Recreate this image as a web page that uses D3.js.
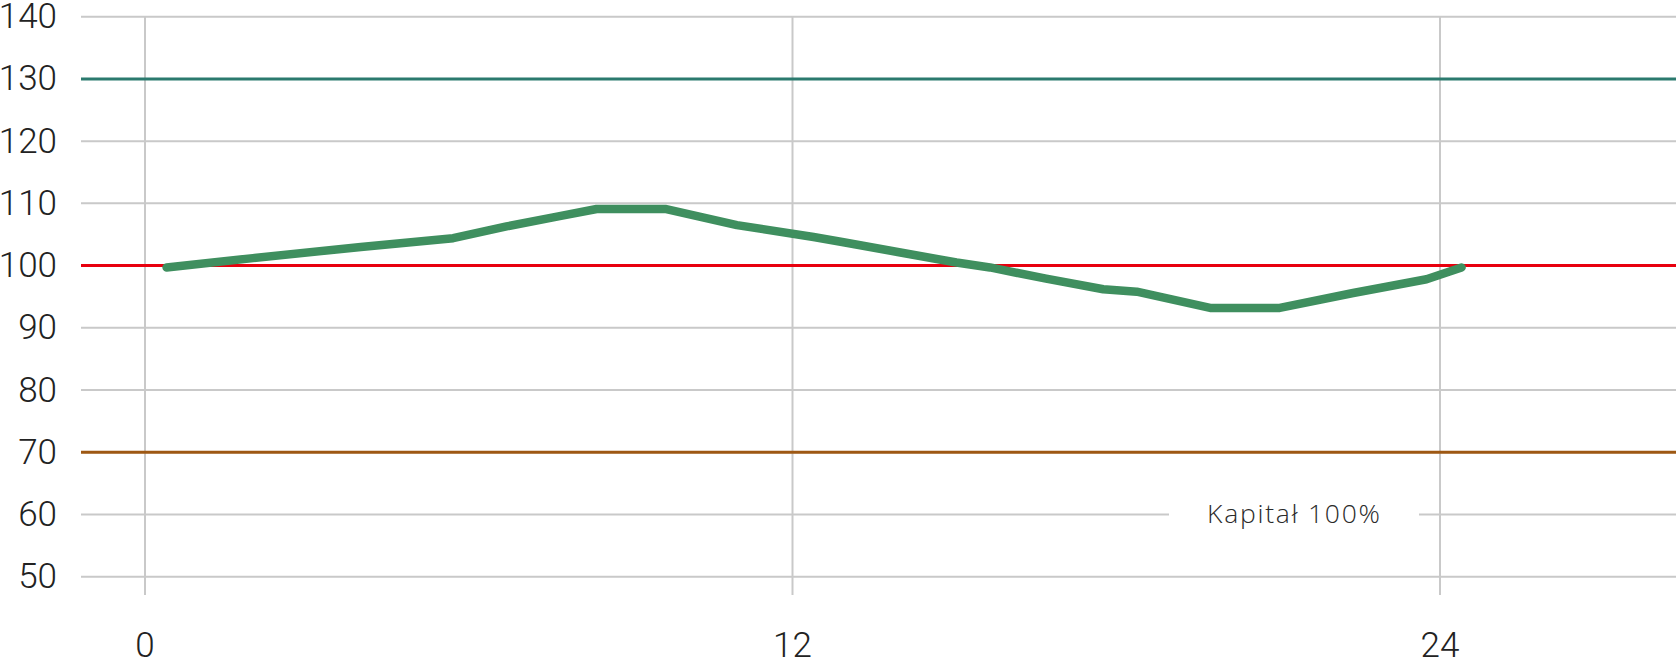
<!DOCTYPE html>
<html>
<head>
<meta charset="utf-8">
<script src="https://cdn.jsdelivr.net/npm/d3@7"></script>
<style>
  html, body { margin: 0; padding: 0; background: #ffffff; }
  svg { display: block; }
</style>
</head>
<body>
<svg id="chart" width="1676" height="659"></svg>
<script>
// ---- data ----
const xTicks = [0, 12, 24];
const yTicks = [50, 60, 70, 80, 90, 100, 110, 120, 130, 140];
const seriesX = [0.40, 2.0, 4.0, 5.71, 6.7, 7.66, 8.37, 9.64, 10.97, 12.39, 12.92, 14.0, 15.04, 15.66, 16.7, 17.76, 18.38, 19.74, 21.03, 22.39, 23.01, 23.75, 24.40];
const seriesY = [99.7, 101.2, 103.0, 104.4, 106.3, 107.9, 109.1, 109.1, 106.5, 104.6, 103.8, 102.1, 100.5, 99.7, 97.9, 96.2, 95.8, 93.2, 93.2, 95.6, 96.6, 97.8, 99.7];
const refValues = [130, 100, 70];
const refColors = ["#2b7a6e", "#e8000e", "#9e5813"];
const annotationText = "Kapitał 100%";
const annotationY = 60;

// ---- layout ----
const svg = d3.select("#chart");
const W = 1676;
const gridLeft = 81, gridRight = W;

const x = d3.scaleLinear().domain([0, 24]).range([145, 1440]);
const y = d3.scaleLinear().domain([50, 140]).range([576.7, 16.7]);

// horizontal grid
svg.append("g").selectAll("line").data(yTicks).join("line")
  .attr("x1", gridLeft).attr("x2", gridRight)
  .attr("y1", d => y(d)).attr("y2", d => y(d))
  .attr("stroke", "#c9c9c9").attr("stroke-width", 2);

// vertical grid
svg.append("g").selectAll("line").data(xTicks).join("line")
  .attr("x1", d => x(d)).attr("x2", d => x(d))
  .attr("y1", y(140)).attr("y2", 595)
  .attr("stroke", "#c9c9c9").attr("stroke-width", 2);

// annotation background + text
svg.append("rect")
  .attr("x", 1169).attr("y", y(annotationY) - 8)
  .attr("width", 250).attr("height", 16)
  .attr("fill", "#ffffff");
svg.append("text")
  .attr("x", 1207).attr("y", y(annotationY) + 8.5)
  .attr("text-anchor", "start")
  .attr("font-family", "'Open Sans', sans-serif")
  .attr("font-weight", 300)
  .attr("font-size", 26.5)
  .attr("textLength", 173)
  .attr("lengthAdjust", "spacing")
  .attr("fill", "#2a2a2a")
  .text(annotationText);

// reference lines
svg.append("g").selectAll("line").data(refValues).join("line")
  .attr("x1", gridLeft).attr("x2", gridRight)
  .attr("y1", d => y(d)).attr("y2", d => y(d))
  .attr("stroke", (d, i) => refColors[i]).attr("stroke-width", 3);

// y labels
svg.append("g").selectAll("text").data(yTicks).join("text")
  .attr("x", 57).attr("y", d => y(d) + 11.5)
  .attr("text-anchor", "end")
  .attr("font-family", "Roboto, sans-serif")
  .attr("font-weight", 300)
  .attr("font-size", 35)
  .attr("fill", "#222222")
  .text(d => d);

// x labels
svg.append("g").selectAll("text").data(xTicks).join("text")
  .attr("x", d => x(d)).attr("y", 657)
  .attr("text-anchor", "middle")
  .attr("font-family", "Roboto, sans-serif")
  .attr("font-weight", 300)
  .attr("font-size", 35)
  .attr("fill", "#222222")
  .text(d => d);

// series line
const pts = seriesX.map((v, i) => [v, seriesY[i]]);
svg.append("path")
  .datum(pts)
  .attr("d", d3.line().x(d => x(d[0])).y(d => y(d[1])))
  .attr("fill", "none")
  .attr("stroke", "#3f8f5f")
  .attr("stroke-width", 8.5)
  .attr("stroke-linecap", "round")
  .attr("stroke-linejoin", "round");
</script>
</body>
</html>
